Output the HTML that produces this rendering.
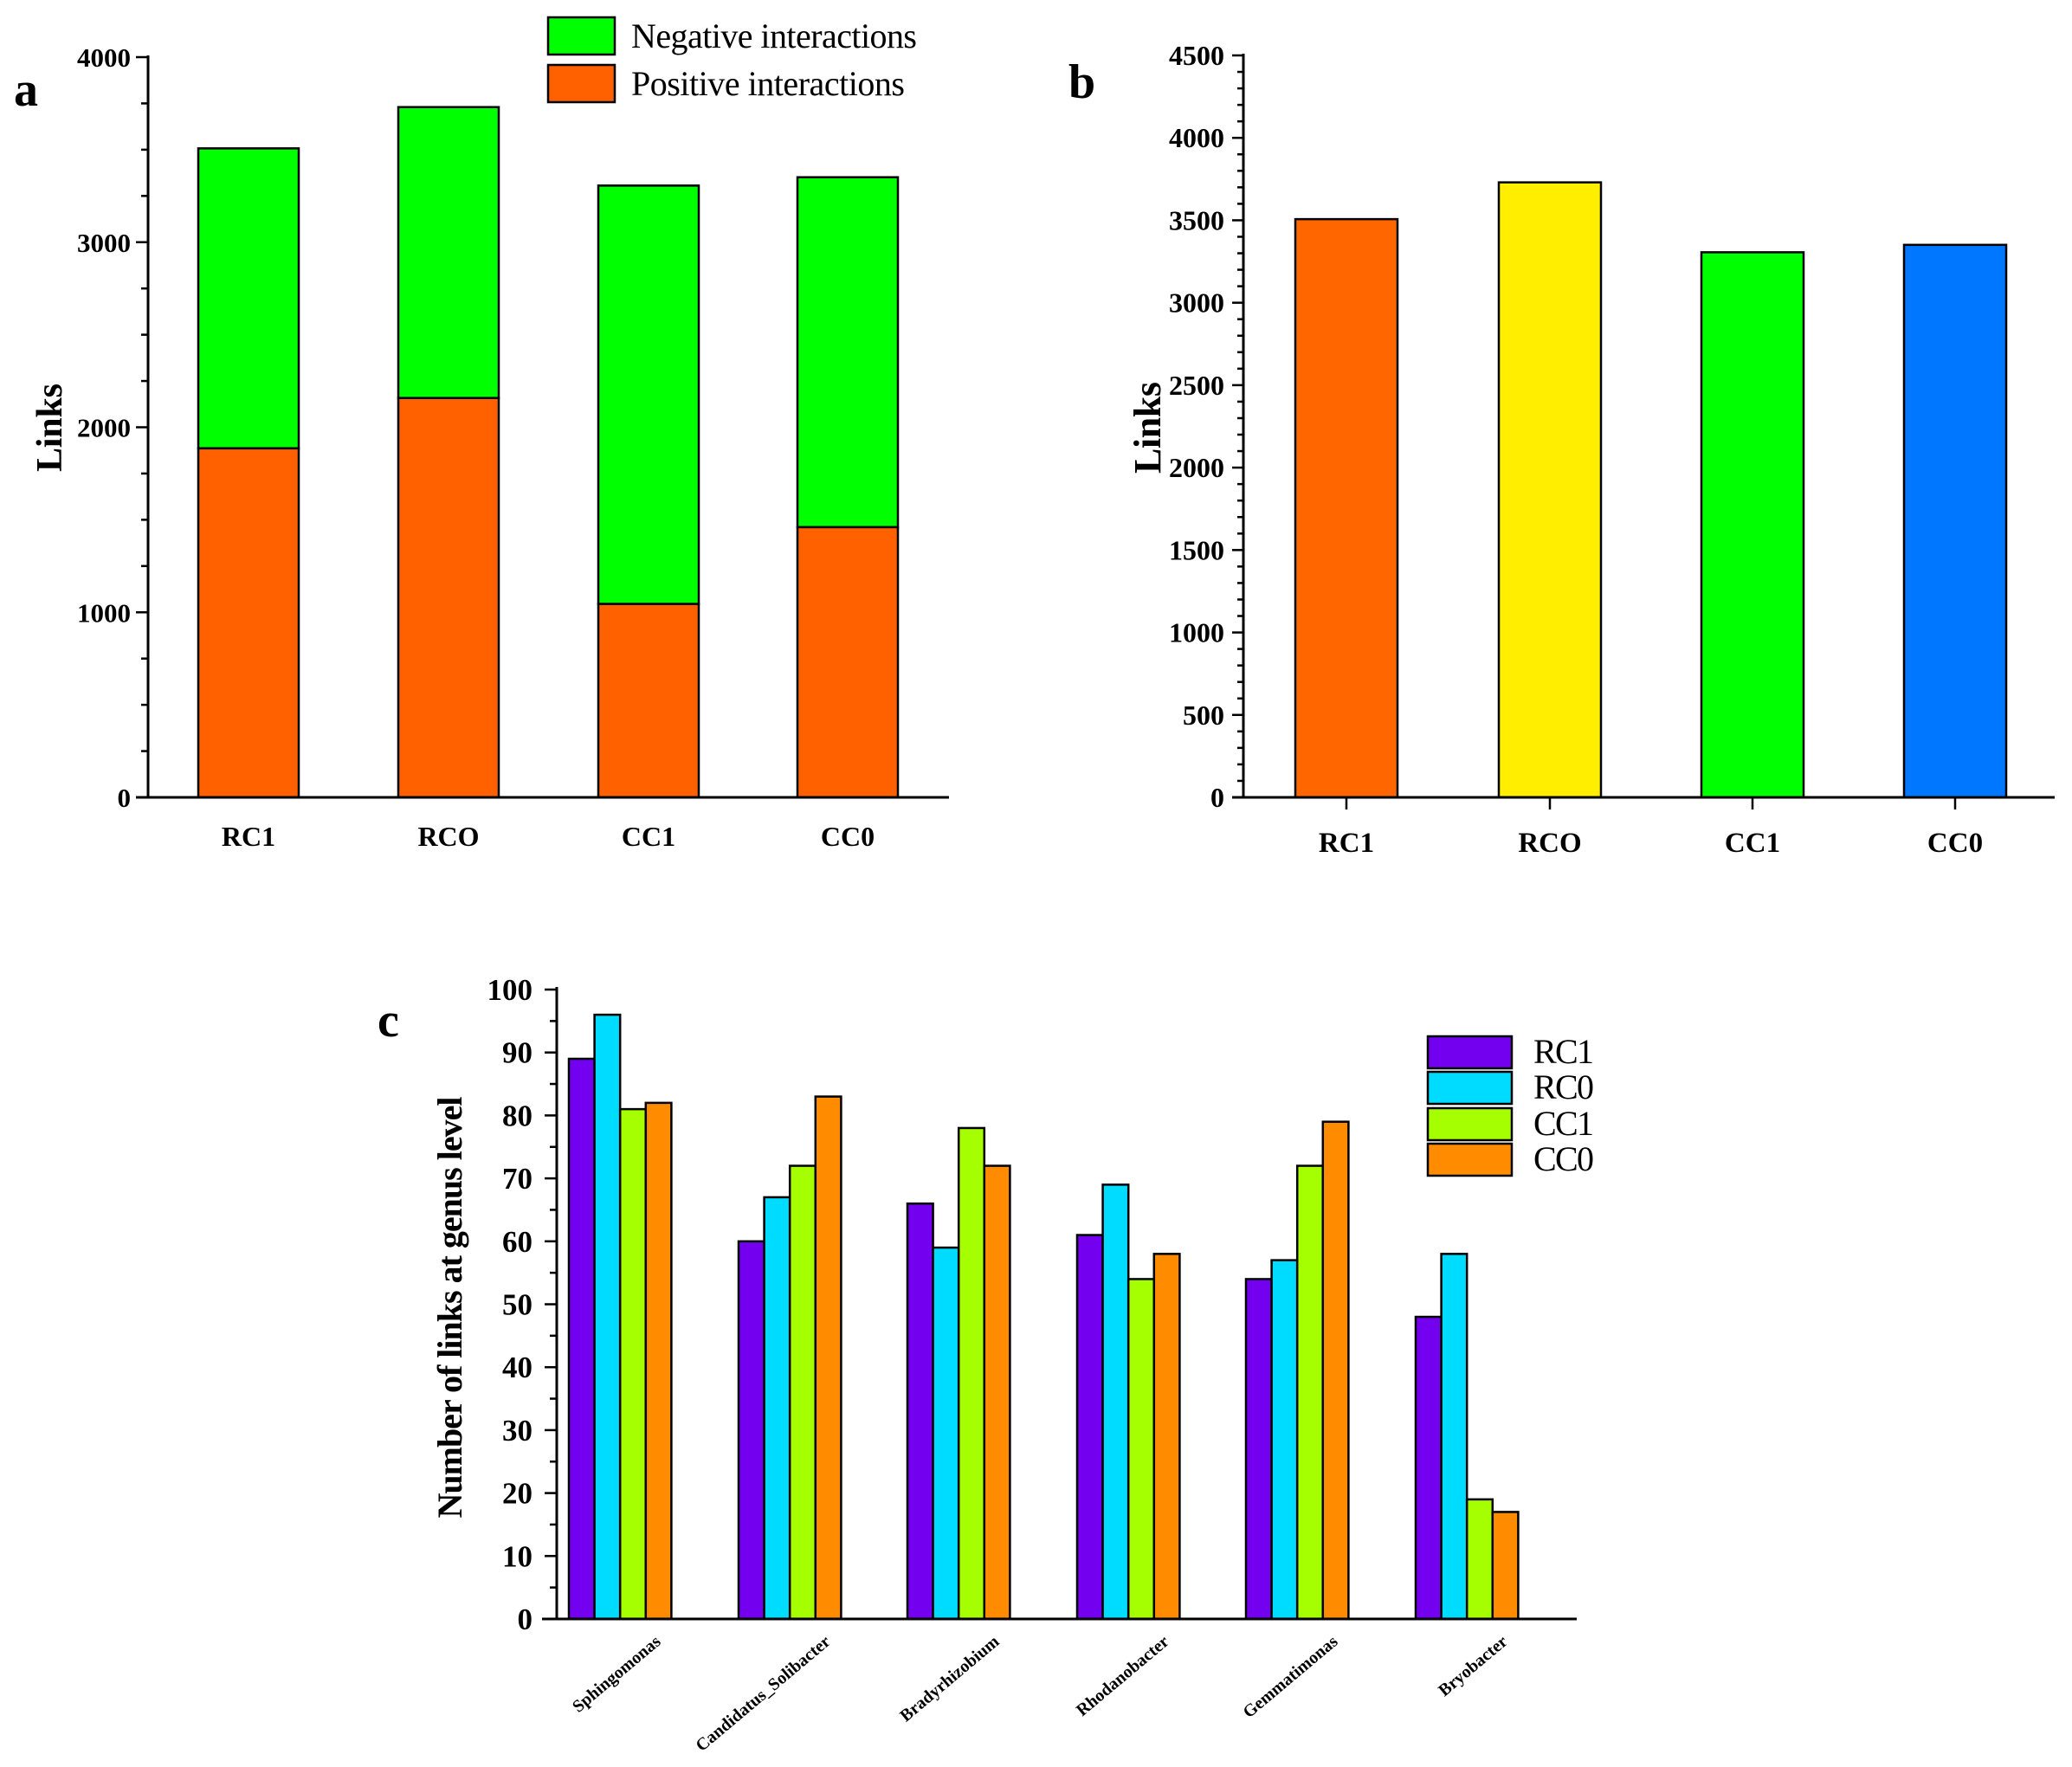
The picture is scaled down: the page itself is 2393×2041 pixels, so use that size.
<!DOCTYPE html>
<html><head><meta charset="utf-8"><style>html,body{margin:0;padding:0;background:#fff}svg{display:block}</style></head>
<body>
<svg id="s" xmlns="http://www.w3.org/2000/svg" width="2393" height="2041" viewBox="0 0 2393 2041" font-family="Liberation Serif, serif"></svg>
<script>
const s=document.getElementById('s');let h='';
const R=(x,y,w,hh,f)=>h+=`<rect x="${x}" y="${y}" width="${w}" height="${hh}" fill="${f}" stroke="#000" stroke-width="2.5"/>`;
const L=(x1,y1,x2,y2,w)=>h+=`<line x1="${x1}" y1="${y1}" x2="${x2}" y2="${y2}" stroke="#000" stroke-width="${w||3}"/>`;
const T=(x,y,t,o)=>h+=`<text x="${x}" y="${y}" ${o||''}>${t}</text>`;
// ---- chart a ----
{const ax=171,y0=921,k=(921-66)/4000;
 const d=[[1886,3507],[2158,3730],[1045,3306],[1460,3351]];
 const xs=[229,460,691,921],w=116,lab=['RC1','RCO','CC1','CC0'];
 d.forEach((v,i)=>{R(xs[i],y0-v[1]*k,w,(v[1]-v[0])*k,'#00ff00');R(xs[i],y0-v[0]*k,w,v[0]*k,'#ff6100');
  T(xs[i]+w/2,977,lab[i],'font-size="32" font-weight="bold" text-anchor="middle"');});
 for(let v=0;v<=4000;v+=250){const y=y0-v*k;L(v%1000?ax-8:ax-14,y,ax,y,2.5);
  if(v%1000==0)T(ax-20,y+11,v,'font-size="31" font-weight="bold" text-anchor="end"');}
 L(ax,64,ax,y0+1.5);L(ax-14,y0,1096,y0);
 T(57,494,'Links','font-size="42" font-weight="bold" text-anchor="middle" textLength="102" transform="rotate(-90 57 494)" dy="14"');
 T(16,122,'a','font-size="56" font-weight="bold"');
 R(633,20,77,43,'#00ff00');R(633,75,77,43,'#ff6100');
 T(729,55,'Negative interactions','font-size="40" textLength="330"');
 T(729,110,'Positive interactions','font-size="40" textLength="316"');
}
// ---- chart b ----
{const ax=1436,y0=921,k=(921-64)/4500;
 const d=[3507,3730,3306,3351],xs=[1496,1731,1965,2199],w=118,c=['#ff6600','#ffee00','#00ff00','#0077ff'],lab=['RC1','RCO','CC1','CC0'];
 d.forEach((v,i)=>{R(xs[i],y0-v*k,w,v*k,c[i]);L(xs[i]+w/2,y0,xs[i]+w/2,y0+14,2.5);
  T(xs[i]+w/2,984,lab[i],'font-size="33" font-weight="bold" text-anchor="middle"');});
 for(let v=0;v<=4500;v+=100){const y=y0-v*k;L(v%500?ax-7:ax-13,y,ax,y,2.5);
  if(v%500==0)T(ax-22,y+11,v,'font-size="32" font-weight="bold" text-anchor="end"');}
 L(ax,62,ax,y0+1.5);L(ax-13,y0,2373,y0);
 T(1325,494,'Links','font-size="44" font-weight="bold" text-anchor="middle" textLength="106" transform="rotate(-90 1325 494)" dy="15"');
 T(1234,113,'b','font-size="56" font-weight="bold"');
}
// ---- chart c ----
{const ax=643,y0=1870,k=7.27;
 const d=[[89,96,81,82],[60,67,72,83],[66,59,78,72],[61,69,54,58],[54,57,72,79],[48,58,19,17]];
 const gs=[657,853,1048,1244,1439,1635],w=29.6,c=['#7300ee','#00dcff','#a6ff00','#ff8c00'];
 const names=['Sphingomonas','Candidatus_Solibacter','Bradyrhizobium','Rhodanobacter','Gemmatimonas','Bryobacter'];
 d.forEach((g,i)=>{g.forEach((v,j)=>R(gs[i]+j*w,y0-v*k,w,v*k,c[j]));
  const ex=gs[i]+2*w+48,ey=1898;
  T(ex,ey,names[i],`font-size="20" font-weight="bold" text-anchor="end" transform="rotate(-40 ${ex} ${ey})"`);});
 for(let v=0;v<=100;v+=5){const y=y0-v*k;L(v%10?ax-8:ax-14,y,ax,y,2.5);
  if(v%10==0)T(ax-28,y+12,v,'font-size="35" font-weight="bold" text-anchor="end"');}
 L(ax,1140,ax,y0+1.5);L(626,y0,1821,y0);
 T(519,1510,'Number of links at genus level','font-size="40" font-weight="bold" text-anchor="middle" textLength="487" transform="rotate(-90 519 1510)" dy="14"');
 T(436,1197,'c','font-size="56" font-weight="bold"');
 const ly=[1197,1238,1280,1321],ln=['RC1','RC0','CC1','CC0'];
 ly.forEach((y,i)=>{R(1649,y,97,37,c[i]);T(1771,y+31,ln[i],'font-size="40" textLength="70"');});
}
s.innerHTML=h;
</script>
</body></html>
